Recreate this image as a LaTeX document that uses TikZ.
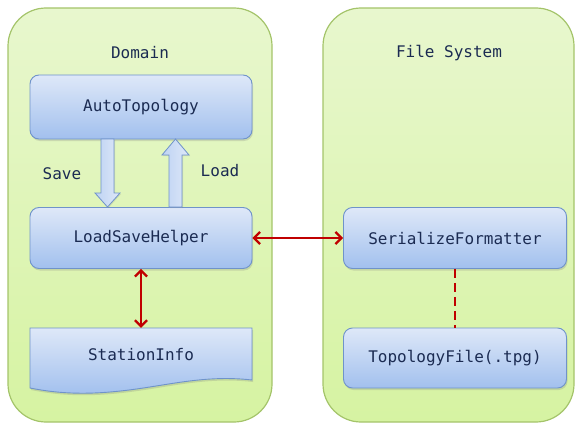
\documentclass[tikz,border=0pt]{standalone}
\usepackage{fontspec}
\setmonofont{DejaVu Sans Mono}
\usetikzlibrary{arrows.meta,shadows}
\definecolor{panelborder}{HTML}{A4C46A}
\definecolor{paneltop}{HTML}{E8F7CE}
\definecolor{panelbot}{HTML}{D6F3A2}
\definecolor{boxtop}{HTML}{DEE8F8}
\definecolor{boxbot}{HTML}{A2C0EE}
\definecolor{boxborder}{HTML}{6F93CA}
\definecolor{txt}{HTML}{1B2B52}
\definecolor{linkred}{HTML}{C00000}
\tikzset{
  panel/.style={draw=panelborder,line width=1.2pt,rounded corners=38pt,top color=paneltop,bottom color=panelbot},
  boxnode/.style={draw=boxborder,line width=0.9pt,rounded corners=9pt,top color=boxtop,bottom color=boxbot,
    minimum width=222pt,inner sep=0pt,font=\ttfamily\fontsize{16}{18}\selectfont,text=txt,
    drop shadow={opacity=0.25,shadow xshift=1pt,shadow yshift=-2pt}},
  lbl/.style={font=\ttfamily\fontsize{16}{18}\selectfont,text=txt,inner sep=0pt},
  blockarrow/.style={draw=boxborder,line width=0.8pt,left color=boxbot!70,right color=boxtop,
    drop shadow={opacity=0.2,shadow xshift=1pt,shadow yshift=-1pt}},
  redlink/.style={draw=linkred,line width=2.2pt,{Straight Barb[length=6pt,width=12pt]}-{Straight Barb[length=6pt,width=12pt]}},
  reddash/.style={draw=linkred,line width=2.2pt,dash pattern=on 9pt off 5pt}
}
\begin{document}
\begin{tikzpicture}[x=1pt,y=-1pt]
\useasboundingbox (0,0) rectangle (584,428);
% panels
\path[panel] (8,8) rectangle (272,422);
\path[panel] (323,8) rectangle (574,422);
\node[lbl] (dom) at (140,53) {Domain};
\node[lbl] (fs) at (449,53) {File System};
% boxes
\node[boxnode,minimum height=64pt] (at) at (141,107) {AutoTopology};
\node[boxnode,minimum height=61pt] (lsh) at (141,238) {LoadSaveHelper};
\node[boxnode,minimum width=223pt,minimum height=61pt] (sf) at (455,238) {SerializeFormatter};
\node[boxnode,minimum width=223pt,minimum height=60pt] (tf) at (455,358) {TopologyFile(.tpg)};
% document shape StationInfo
\path[draw=boxborder,line width=0.9pt,top color=boxtop,bottom color=boxbot,
  drop shadow={opacity=0.25,shadow xshift=1pt,shadow yshift=-2pt}]
  (30,328) -- (252,328) -- (252,380)
  .. controls (200,374) and (160,388) .. (110,392)
  .. controls (75,395) and (50,392) .. (30,388) -- cycle;
\node[lbl,minimum width=222pt,minimum height=54pt] (si) at (141,355) {StationInfo};
% block arrows
\path[blockarrow] (101,139) -- (114,139) -- (114,193) -- (120,193) -- (107.5,207) -- (95,193) -- (101,193) -- cycle;
\path[blockarrow] (169,207) -- (182,207) -- (182,155) -- (189,155) -- (175.5,139) -- (162,155) -- (169,155) -- cycle;
\node[lbl] (save) at (62,174) {Save};
\node[lbl] (load) at (220,171) {Load};
% connectors
\draw[redlink] (lsh.east) -- (sf.west);
\draw[redlink] (lsh.south) -- (si.north);
\draw[reddash] (sf.south) -- (tf.north);
\end{tikzpicture}
\end{document}
